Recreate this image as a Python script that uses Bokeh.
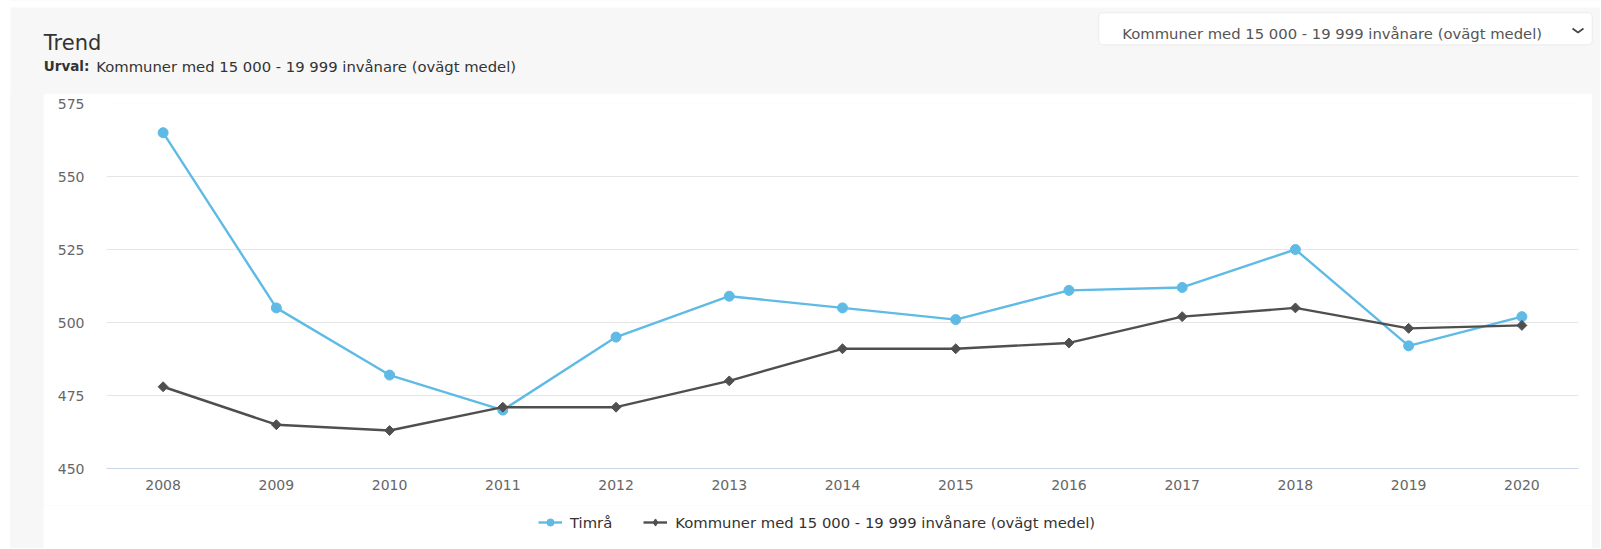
from bokeh.plotting import figure
from bokeh.models import (Range1d, FixedTicker, Legend, LegendItem, Label,
                          BoxAnnotation)
from bokeh.layouts import column
from bokeh.embed import file_html
from bokeh.resources import INLINE
import math

# ---- data ----
years = [2008, 2009, 2010, 2011, 2012, 2013, 2014, 2015, 2016, 2017, 2018, 2019, 2020]
timra = [565, 505, 482, 470, 495, 509, 505, 501, 511, 512, 525, 492, 502]
kommuner = [478, 465, 463, 471, 471, 480, 491, 491, 493, 502, 505, 498, 499]
y_ticks = [450, 475, 500, 525, 550, 575]

title_text = "Trend"
urval_label = "Urval:"
group_name = "Kommuner med 15 000 - 19 999 invånare (ovägt medel)"
series_names = ["Timrå", group_name]

FONT = "DejaVu Sans"
GREY_BG = "#f7f7f7"
BLUE = "#5fbbe5"
DARK = "#4f4f4f"


def bare(fig, bg):
    fig.frame_align = False
    fig.grid.visible = False
    fig.outline_line_color = None
    fig.background_fill_color = bg
    fig.border_fill_color = bg


def draw_series(fig, in_legend=False):
    r1 = fig.line(years, timra, line_color=BLUE, line_width=2.4)
    r2 = fig.scatter(years, timra, marker="circle", size=10, fill_color=BLUE,
                     line_color=BLUE)
    r3 = fig.line(years, kommuner, line_color=DARK, line_width=2.4)
    if in_legend:
        r4 = fig.scatter(years, kommuner, marker="diamond", size=11,
                         fill_color=DARK, line_color=DARK)
    else:
        r4 = fig.scatter(years, kommuner, marker="square", angle=math.pi / 4,
                         size=7, fill_color=DARK, line_color=DARK)
    return r1, r2, r3, r4


# ---- header (title, subtitle, dropdown) ----
HW, HH = 1600, 93
header = figure(width=HW, height=HH, x_range=Range1d(0, HW), y_range=Range1d(0, HH),
                x_axis_type=None, y_axis_type=None, toolbar_location=None,
                output_backend="svg", min_border=0)
bare(header, "white")

header.add_layout(BoxAnnotation(left=10, right=HW, bottom=0, top=86,
                                fill_color=GREY_BG, fill_alpha=1.0,
                                line_color=None, level="underlay"))
header.add_layout(BoxAnnotation(left=1098.3, right=1591.7, bottom=48.7, top=80.7,
                                fill_color="white", fill_alpha=1.0,
                                line_color="#cccccc", line_width=1,
                                border_radius=4, level="underlay"))

header.add_layout(Label(x=43.3, y=50.7, text=title_text, text_font=FONT,
                        text_font_size="21px", text_color="#333333",
                        text_baseline="alphabetic"))
header.add_layout(Label(x=43.3, y=27.3, text=urval_label, text_font=FONT,
                        text_font_size="13.5px", text_font_style="bold",
                        text_color="#333333", text_baseline="alphabetic"))
header.add_layout(Label(x=95.7, y=27.3, text=group_name, text_font=FONT,
                        text_font_size="14.8px", text_color="#333333",
                        text_baseline="alphabetic"))
header.add_layout(Label(x=1121.7, y=59.7, text=group_name, text_font=FONT,
                        text_font_size="14.8px", text_color="#555555",
                        text_baseline="alphabetic"))
header.line(x=[1572, 1577.5, 1583], y=[65, 61, 65], line_width=1.6,
            line_color="#444444")

# ---- main chart ----
p = figure(width=1549, height=412,
           x_range=Range1d(2007.5, 2020.5), y_range=Range1d(450, 575),
           toolbar_location=None, output_backend="svg",
           min_border_left=63, min_border_right=14,
           min_border_top=10, min_border_bottom=37)
p.frame_align = False
p.margin = (0, 0, 0, 43)
p.background_fill_color = "white"
p.border_fill_color = "white"
p.outline_line_color = None

p.xaxis.ticker = FixedTicker(ticks=years)
p.yaxis.ticker = FixedTicker(ticks=y_ticks)
p.xgrid.visible = False
p.ygrid.grid_line_color = "#e6e6e6"
p.ygrid.grid_line_width = 1

for ax in (p.xaxis, p.yaxis):
    ax.major_tick_line_color = None
    ax.minor_tick_line_color = None
    ax.major_tick_out = 0
    ax.major_tick_in = 0
    ax.minor_tick_out = 0
    ax.major_label_text_font = FONT
    ax.major_label_text_font_size = "14px"
    ax.major_label_text_color = "#666666"
p.yaxis.axis_line_color = None
p.yaxis.major_label_standoff = 22
p.xaxis.axis_line_color = "#ccd6eb"
p.xaxis.axis_line_width = 1
p.xaxis.major_label_standoff = 11

draw_series(p)

# ---- legend strip (below the chart, centred on the white panel) ----
# The same series are drawn here but fall outside this strip's ranges,
# so only their legend swatches appear.
LW, LH = 1549, 43
lf = figure(width=LW, height=LH, x_range=Range1d(0, LW), y_range=Range1d(0, LH),
            x_axis_type=None, y_axis_type=None, toolbar_location=None,
            output_backend="svg", min_border=0)
bare(lf, "white")
lf.margin = (0, 0, 0, 43)
pl1, ps1, pl2, ps2 = draw_series(lf, in_legend=True)

legend = Legend(items=[LegendItem(label=series_names[0], renderers=[pl1, ps1]),
                       LegendItem(label=series_names[1], renderers=[pl2, ps2])],
                orientation="horizontal", location=(495, 17),
                glyph_width=24, glyph_height=18, label_height=18,
                label_standoff=8, spacing=31, padding=0, margin=0,
                border_line_color=None, background_fill_alpha=0,
                label_text_font=FONT, label_text_font_size="14.8px",
                label_text_color="#333333")
lf.add_layout(legend)

layout = column(header, p, lf,
                styles={"background": "linear-gradient(to right, white 10px, %s 10px)" % GREY_BG})

open("out.html", "w").write(file_html(layout, INLINE))
